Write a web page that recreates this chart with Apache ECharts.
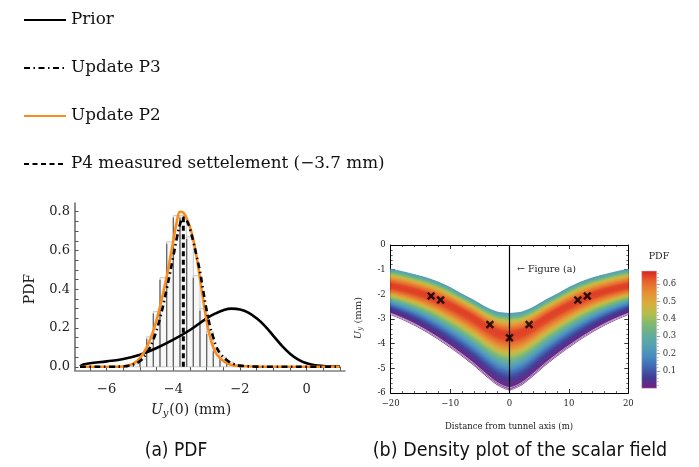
<!DOCTYPE html>
<html>
<head>
<meta charset="utf-8">
<script src="https://cdn.jsdelivr.net/npm/echarts@6/dist/echarts.min.js"></script>
<style>
  html, body { margin: 0; padding: 0; background: #fff; }
  #chart { width: 699px; height: 467px; }
</style>
</head>
<body>
<div id="chart"></div>
<script>
// ---------- (a) PDF of the settlement above the tunnel axis ----------
const priorX = [-6.8, -6.7, -6.5, -6.0, -5.5, -5.0, -4.5, -4.0, -3.5, -3.0, -2.75, -2.5, -2.25, -2.0, -1.75, -1.5, -1.25, -1.0, -0.75, -0.5, -0.25, 0, 0.25, 0.5, 0.75, 1.0];
const priorY = [0.003, 0.012, 0.018, 0.028, 0.04, 0.062, 0.097, 0.14, 0.19, 0.25, 0.274, 0.292, 0.300, 0.296, 0.28, 0.25, 0.21, 0.16, 0.11, 0.068, 0.037, 0.018, 0.008, 0.004, 0.002, 0.001];

const p3X = [-6.8, -5.6, -5.4, -5.2, -5.0, -4.8, -4.6, -4.4, -4.2, -4.0, -3.9, -3.8, -3.7, -3.6, -3.5, -3.4, -3.3, -3.2, -3.1, -3.0, -2.9, -2.8, -2.7, -2.6, -2.4, -2.2, -2.0, -1.5, -1.0, 0, 1.0];
const p3Y = [0, 0.001, 0.004, 0.012, 0.03, 0.07, 0.14, 0.25, 0.40, 0.57, 0.66, 0.735, 0.77, 0.755, 0.71, 0.645, 0.57, 0.49, 0.39, 0.29, 0.21, 0.15, 0.10, 0.07, 0.035, 0.015, 0.006, 0.001, 0, 0, 0];

const p2X = [-6.8, -6.0, -5.6, -5.4, -5.2, -5.0, -4.8, -4.6, -4.4, -4.2, -4.0, -3.9, -3.8, -3.7, -3.6, -3.5, -3.4, -3.3, -3.2, -3.1, -3.0, -2.9, -2.8, -2.7, -2.5, -2.3, -2.0, -1.5, -1.0, 0, 1.0];
const p2Y = [0, 0, 0.001, 0.006, 0.017, 0.045, 0.10, 0.185, 0.31, 0.465, 0.65, 0.745, 0.80, 0.795, 0.765, 0.72, 0.655, 0.565, 0.455, 0.34, 0.235, 0.155, 0.10, 0.065, 0.03, 0.012, 0.004, 0.001, 0, 0, 0];

const measuredP4 = -3.7;       // measured settlement (mm)
const measuredTop = 0.78;      // height of the dashed marker line

const histStart = [-5.4, -5.2, -5.0, -4.8, -4.6, -4.4, -4.2, -4.0, -3.8, -3.6, -3.4, -3.2, -3.0, -2.8, -2.6, -2.4, -2.2, -2.0];
const histHeight = [0.005, 0.015, 0.04, 0.155, 0.285, 0.46, 0.645, 0.78, 0.78, 0.67, 0.47, 0.30, 0.18, 0.09, 0.05, 0.025, 0.01, 0.005];
const binWidth = 0.2;

const pdfXLabels = [-6, -4, -2, 0];
const pdfYLabels = [0, 0.2, 0.4, 0.6, 0.8];

// ---------- (b) density of the settlement trough ----------
const distX      = [-20, -18, -16, -14, -12, -10, -8, -6, -4, -2, 0, 2, 4, 6, 8, 10, 12, 14, 16, 18, 20];
const topEdge    = [-0.98, -1.08, -1.20, -1.33, -1.50, -1.72, -1.99, -2.24, -2.52, -2.72, -2.77, -2.72, -2.52, -2.24, -1.99, -1.72, -1.50, -1.33, -1.20, -1.08, -0.98];
const ridge      = [-1.68, -1.78, -1.90, -2.05, -2.24, -2.47, -2.72, -3.00, -3.32, -3.58, -3.68, -3.58, -3.32, -3.00, -2.72, -2.47, -2.24, -2.05, -1.90, -1.78, -1.68];
const bottomEdge = [-2.82, -3.02, -3.25, -3.52, -3.82, -4.15, -4.50, -4.88, -5.30, -5.68, -5.88, -5.68, -5.30, -4.88, -4.50, -4.15, -3.82, -3.52, -3.25, -3.02, -2.82];
// PDF across the band: top edge -> ridge, ridge -> bottom edge
const profileUpper = [0.21, 0.31, 0.42, 0.52, 0.59, 0.64, 0.65];
const profileLower = [0.65, 0.64, 0.60, 0.54, 0.46, 0.38, 0.30, 0.22, 0.15, 0.09, 0.05, 0.025, 0.01];
// separated strands along the lower edge (fraction of ridge -> bottom distance)
const strandPos = [0.955, 0.985];

const pointsX = [-13.2, -11.6, -3.3, 0, 3.3, 11.5, 13.1];
const pointsY = [-2.07, -2.23, -3.22, -3.76, -3.22, -2.23, -2.07];

const distLabels = [-20, -10, 0, 10, 20];
const uyLabels = [-6, -5, -4, -3, -2, -1, 0];
const pdfMax = 0.675;
const barLabels = [0.1, 0.2, 0.3, 0.4, 0.5, 0.6];

const rainbow = ['#781C81', '#413B93', '#4065B1', '#488BC2', '#55A1B1', '#63AD99',
                 '#7FB972', '#B5BD4C', '#D9AD3C', '#E68E34', '#E6642C', '#D92120'];

// ---------- helpers ----------
function hexRgb(h) { return [1, 3, 5].map(i => parseInt(h.substr(i, 2), 16)); }
function colorAt(t) {
  t = Math.max(0, Math.min(1, t));
  const n = rainbow.length - 1, f = t * n;
  const i = Math.min(n - 1, Math.floor(f)), u = f - i;
  const a = hexRgb(rainbow[i]), b = hexRgb(rainbow[i + 1]);
  return 'rgb(' + a.map((v, j) => Math.round(v + (b[j] - v) * u)).join(',') + ')';
}
function profileAt(arr, s) {
  const f = s * (arr.length - 1);
  const i = Math.min(arr.length - 2, Math.floor(f)), u = f - i;
  return arr[i] + (arr[i + 1] - arr[i]) * u;
}
function layerCurve(part, s) {
  return distX.map((_, i) => part === 0
    ? topEdge[i] + (ridge[i] - topEdge[i]) * s
    : ridge[i] + (bottomEdge[i] - ridge[i]) * s);
}
const minus = v => (v < 0 ? '\u2212' + (-v) : String(v));
const range = (a, b, step) => { const r = []; for (let k = 0; a + k * step <= b + 1e-9; k++) r.push(+(a + k * step).toFixed(4)); return r; };

// bands of the density field
const layers = [];
const NU = 28, NL = 60;
for (let k = 0; k < NU; k++) {
  const s0 = k / NU, s1 = (k + 1) / NU;
  layers.push({ part: 0, s0, s1, pdf: profileAt(profileUpper, (s0 + s1) / 2) });
}
for (let k = 0; k < NL; k++) {
  const s0 = k / NL, s1 = (k + 1) / NL;
  layers.push({ part: 1, s0, s1, pdf: profileAt(profileLower, (s0 + s1) / 2) });
}

const serif = "'DejaVu Serif', 'Liberation Serif', serif";
const capFont = "'DejaVu Sans Condensed', 'Liberation Sans Narrow', 'Liberation Sans', sans-serif";

const chart = echarts.init(document.getElementById('chart'), null, { renderer: 'canvas' });

const boxAxis = () => ({
  axisLine: { onZero: false, lineStyle: { color: '#000', width: 1 } },
  axisTick: { inside: true, length: 4, lineStyle: { color: '#000', width: 0.8 } },
  minorTick: { show: true, splitNumber: 5, length: 2, lineStyle: { color: '#000', width: 0.6 } },
  splitLine: { show: false }
});

chart.setOption({
  animation: false,
  backgroundColor: '#fff',
  legend: {
    data: ['Prior', 'Update P3', 'Update P2', 'P4 measured settelement (\u22123.7 mm)'],
    orient: 'vertical', left: 23, top: 11.5, padding: 0,
    itemWidth: 42, itemHeight: 14, itemGap: 31,
    itemStyle: { opacity: 0 },
    lineStyle: { opacity: 1 },
    textStyle: { fontFamily: serif, fontSize: 16.8, color: '#111' }
  },
  grid: [
    { left: 75, top: 203, width: 270, height: 167.7 },
    { left: 390.7, top: 245, width: 237.6, height: 148 },
    { left: 641.7, top: 271, width: 15, height: 117.3 }
  ],
  xAxis: [
    {
      gridIndex: 0, type: 'value', min: -6.95, max: 1.15,
      axisLine: { onZero: false, lineStyle: { color: '#808080', width: 1.6 } },
      axisTick: { inside: true, length: 4, customValues: range(-6.5, 1.0, 0.5), lineStyle: { color: '#555', width: 1 } },
      axisLabel: { customValues: pdfXLabels, formatter: minus, margin: 12, fontFamily: serif, fontSize: 13, color: '#222' },
      splitLine: { show: false }
    },
    Object.assign({
      gridIndex: 1, type: 'value', min: -20, max: 20, interval: 10, position: 'bottom',
      axisLabel: { formatter: minus, margin: 6, fontFamily: serif, fontSize: 8.5, color: '#222',
                   customValues: distLabels }
    }, boxAxis()),
    Object.assign({
      gridIndex: 1, type: 'value', min: -20, max: 20, interval: 10, position: 'top',
      axisLabel: { show: false }
    }, boxAxis()),
    { gridIndex: 2, type: 'value', min: 0, max: 1, show: false }
  ],
  yAxis: [
    {
      gridIndex: 0, type: 'value', min: -0.02, max: 0.845,
      axisLine: { show: true, onZero: false, lineStyle: { color: '#707070', width: 1.6 } },
      axisTick: { show: true, inside: true, length: 3.5, customValues: range(0, 0.8, 0.05), lineStyle: { color: '#555', width: 1 } },
      axisLabel: { customValues: pdfYLabels, formatter: v => v.toFixed(1), margin: 5, fontFamily: serif, fontSize: 13, color: '#222' },
      splitLine: { show: false }
    },
    Object.assign({
      gridIndex: 1, type: 'value', min: -6, max: 0, interval: 1, position: 'left',
      axisLabel: { formatter: v => String(v), margin: 5, fontFamily: serif, fontSize: 8.5, color: '#222',
                   customValues: uyLabels }
    }, boxAxis()),
    Object.assign({
      gridIndex: 1, type: 'value', min: -6, max: 0, interval: 1, position: 'right',
      axisLabel: { show: false }
    }, boxAxis()),
    {
      gridIndex: 2, type: 'value', min: 0, max: pdfMax, position: 'right',
      axisLine: { show: false, onZero: false },
      axisTick: { show: true, inside: false, length: 2, customValues: range(0.02, 0.66, 0.02), lineStyle: { color: '#999', width: 0.6 } },
      axisLabel: { customValues: barLabels, formatter: v => v.toFixed(1), margin: 6, fontFamily: serif, fontSize: 8.5, color: '#333' },
      splitLine: { show: false }
    },
    {
      gridIndex: 2, type: 'value', min: 0, max: pdfMax, position: 'right',
      axisLine: { show: false, onZero: false },
      axisTick: { show: true, inside: false, length: 3.5, customValues: barLabels, lineStyle: { color: '#888', width: 0.7 } },
      axisLabel: { show: false },
      splitLine: { show: false }
    }
  ],
  series: [
    {
      name: 'histogram', type: 'custom', xAxisIndex: 0, yAxisIndex: 0, z: 1,
      data: histStart.map((s, i) => [s, histHeight[i]]),
      renderItem(params, api) {
        const x0 = api.value(0), h = api.value(1);
        const p0 = api.coord([x0, 0]), p1 = api.coord([x0 + binWidth, h]);
        return {
          type: 'group',
          children: [
            { type: 'rect', shape: { x: p0[0], y: p1[1], width: p1[0] - p0[0], height: p0[1] - p1[1] },
              style: { fill: '#f7f7f7', stroke: '#bdbdbd', lineWidth: 0.8 } },
            { type: 'line', shape: { x1: p0[0], y1: p0[1], x2: p0[0], y2: p1[1] + 2 },
              style: { stroke: '#666', lineWidth: 1.3 } }
          ]
        };
      }
    },
    {
      name: 'Prior', type: 'line', xAxisIndex: 0, yAxisIndex: 0, z: 3,
      data: priorX.map((x, i) => [x, priorY[i]]), smooth: 0.4, symbol: 'none',
      lineStyle: { color: '#000', width: 2.6 }, itemStyle: { color: '#000' }
    },
    {
      name: 'Update P3', type: 'line', xAxisIndex: 0, yAxisIndex: 0, z: 5,
      data: p3X.map((x, i) => [x, p3Y[i]]), smooth: 0.4, symbol: 'none',
      lineStyle: { color: '#000', width: 2.6, type: [6, 3.5, 1.5, 3.5] }, itemStyle: { color: '#000' }
    },
    {
      name: 'Update P2', type: 'line', xAxisIndex: 0, yAxisIndex: 0, z: 4,
      data: p2X.map((x, i) => [x, p2Y[i]]), smooth: 0.4, symbol: 'none',
      lineStyle: { color: '#fb8c1c', width: 2.6 }, itemStyle: { color: '#fb8c1c' }
    },
    {
      name: 'P4 measured settelement (\u22123.7 mm)', type: 'line', xAxisIndex: 0, yAxisIndex: 0, z: 2,
      data: [[measuredP4, 0], [measuredP4, measuredTop]], symbol: 'none',
      lineStyle: { color: '#000', width: 3, type: [5, 3.5] }, itemStyle: { color: '#000' }
    },
    {
      name: 'density', type: 'custom', xAxisIndex: 1, yAxisIndex: 1, z: 1, clip: true,
      data: layers.map((L, k) => [k, L.pdf]),
      renderItem(params, api) {
        const L = layers[params.dataIndex];
        const a = layerCurve(L.part, L.s0), b = layerCurve(L.part, L.s1);
        const pts = [];
        for (let i = 0; i < distX.length; i++) pts.push(api.coord([distX[i], a[i]]));
        for (let i = distX.length - 1; i >= 0; i--) pts.push(api.coord([distX[i], b[i]]));
        const c = colorAt(L.pdf / pdfMax);
        return { type: 'polygon', shape: { points: pts, smooth: 0.2 }, style: { fill: c, stroke: c, lineWidth: 0.7 } };
      }
    },
    {
      name: 'strands', type: 'custom', xAxisIndex: 1, yAxisIndex: 1, z: 2, clip: true,
      data: strandPos.map((s, k) => [k, s]),
      renderItem(params, api) {
        const ys = layerCurve(1, api.value(1));
        const pts = distX.map((x, i) => api.coord([x, ys[i]]));
        return { type: 'polyline', shape: { points: pts, smooth: 0.3 },
                 style: { stroke: 'rgba(255,255,255,0.85)', lineWidth: 0.7, fill: null } };
      }
    },
    {
      name: 'axis line', type: 'line', xAxisIndex: 1, yAxisIndex: 1, z: 3,
      data: [[0, -6], [0, 0]], symbol: 'none', lineStyle: { color: '#000', width: 1.2 }
    },
    {
      name: 'measured points', type: 'scatter', xAxisIndex: 1, yAxisIndex: 1, z: 4,
      data: pointsX.map((x, i) => [x, pointsY[i]]),
      symbol: 'path://M2,0L5,3L8,0L10,2L7,5L10,8L8,10L5,7L2,10L0,8L3,5L0,2Z',
      symbolSize: 8.5, itemStyle: { color: '#000' }
    },
    {
      name: 'colorbar', type: 'custom', xAxisIndex: 3, yAxisIndex: 3, z: 1,
      data: [[0, 0]],
      renderItem(params, api) {
        const p0 = api.coord([0, pdfMax]), p1 = api.coord([1, 0]);
        return {
          type: 'rect',
          shape: { x: p0[0], y: p0[1], width: p1[0] - p0[0], height: p1[1] - p0[1] },
          style: {
            fill: new echarts.graphic.LinearGradient(0, 1, 0, 0,
              rainbow.map((c, i) => ({ offset: i / (rainbow.length - 1), color: c }))),
            stroke: '#ccc', lineWidth: 0.5
          }
        };
      }
    }
  ],
  graphic: [
    { type: 'text', x: 191, y: 410, style: {
        text: '{i|U}{s|y}{n|(0) (mm)}', align: 'center', verticalAlign: 'middle',
        rich: { i: { fontFamily: serif, fontSize: 14, fontStyle: 'italic', fill: '#222' },
                s: { fontFamily: serif, fontSize: 10, fontStyle: 'italic', padding: [7, 1, 0, 0], fill: '#222' },
                n: { fontFamily: serif, fontSize: 14, fill: '#222' } } } },
    { type: 'text', x: 30, y: 289, rotation: Math.PI / 2, style: {
        text: 'PDF', align: 'center', verticalAlign: 'middle', fontFamily: serif, fontSize: 14, fill: '#222' } },
    { type: 'text', x: 509, y: 427, style: {
        text: 'Distance from tunnel axis (m)', align: 'center', verticalAlign: 'middle', fontFamily: serif, fontSize: 8.5, fill: '#222' } },
    { type: 'text', x: 358, y: 318, rotation: Math.PI / 2, style: {
        text: '{i|U}{s|y}{n| (mm)}', align: 'center', verticalAlign: 'middle',
        rich: { i: { fontFamily: serif, fontSize: 10, fontStyle: 'italic', fill: '#333' },
                s: { fontFamily: serif, fontSize: 7, fontStyle: 'italic', padding: [5, 0, 0, 0], fill: '#333' },
                n: { fontFamily: serif, fontSize: 10, fill: '#333' } } } },
    { type: 'text', x: 517, y: 270, style: {
        text: '\u2190 Figure (a)', align: 'left', verticalAlign: 'middle', fontFamily: serif, fontSize: 9.5, fill: '#222' } },
    { type: 'text', x: 659, y: 257, style: {
        text: 'PDF', align: 'center', verticalAlign: 'middle', fontFamily: serif, fontSize: 9.5, fill: '#222' } },
    { type: 'text', x: 176, y: 451, style: {
        text: '(a) PDF', align: 'center', verticalAlign: 'middle', fontFamily: capFont, fontSize: 19, fill: '#111' } },
    { type: 'text', x: 520, y: 451, style: {
        text: '(b) Density plot of the scalar field', align: 'center', verticalAlign: 'middle', fontFamily: capFont, fontSize: 19.5, fill: '#111' } }
  ]
});
</script>
</body>
</html>
